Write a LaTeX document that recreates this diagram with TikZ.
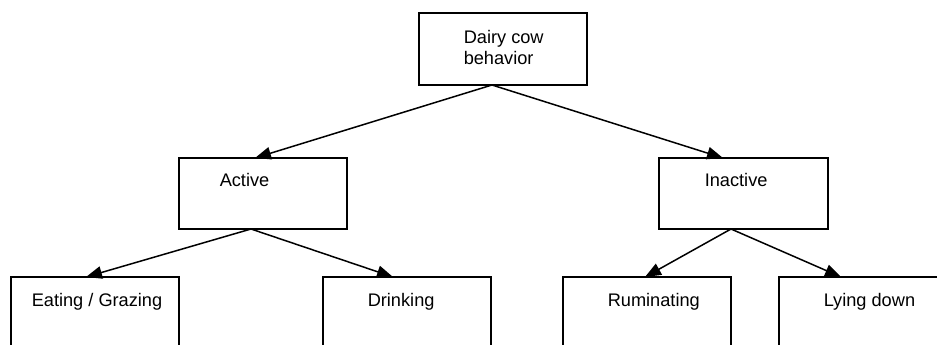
\documentclass[tikz,border=0pt]{standalone}
\usepackage{fontspec}
\setmainfont{Liberation Sans}
\usetikzlibrary{arrows.meta}

\begin{document}
\begin{tikzpicture}[x=1pt, y=-1pt, line width=1.5pt,
  box/.style={draw, rectangle, minimum width=168pt, minimum height=71pt, inner sep=0pt},
  lowbox/.style={box, minimum height=100pt},
  txt/.style={anchor=base west, inner sep=0pt, font=\fontsize{18.2}{21.5}\selectfont},
  arr/.style={-{Triangle[length=16pt, width=12.5pt]}}]
  \clip (0, 0) rectangle (937, 345);

  % boxes
  \node[box, minimum height=72pt] (dairy) at (503, 49) {};
  \node[box] (active) at (263, 193.5) {};
  \node[box, minimum width=169pt] (inactive) at (743.5, 193.5) {};
  \node[lowbox] (eating) at (95, 327) {};
  \node[lowbox] (drinking) at (407, 327) {};
  \node[lowbox] (rumin) at (647, 327) {};
  \node[lowbox] (lying) at (863, 327) {};

  % texts
  \node[txt, anchor=north west, align=left] (dairytxt) at (463, 29.5) {Dairy cow\\behavior};
  \node[txt] (activetxt) at (219, 186) {Active};
  \node[txt] (inactivetxt) at (704, 186) {Inactive};
  \node[txt] (eatingtxt) at (31, 306) {Eating / Grazing};
  \node[txt] (drinkingtxt) at (367, 306) {Drinking};
  \node[txt] (ruminTxt) at (607, 306) {Ruminating};
  \node[txt] (lyingtxt) at (823, 306) {Lying down};

  % arrow ends
  \coordinate (dairyout) at (492, 85);
  \coordinate (activein) at (255, 158);
  \coordinate (inactivein) at (723, 158);
  \coordinate (activeout) at (251, 229);
  \coordinate (inactiveout) at (731, 229);
  \coordinate (eatingin) at (86, 277);
  \coordinate (drinkingin) at (393, 277);
  \coordinate (ruminin) at (645, 277);
  \coordinate (lyingin) at (841, 277);

  \draw[arr] (dairyout) -- (activein);
  \draw[arr] (dairyout) -- (inactivein);
  \draw[arr] (activeout) -- (eatingin);
  \draw[arr] (activeout) -- (drinkingin);
  \draw[arr] (inactiveout) -- (ruminin);
  \draw[arr] (inactiveout) -- (lyingin);
\end{tikzpicture}
\end{document}
